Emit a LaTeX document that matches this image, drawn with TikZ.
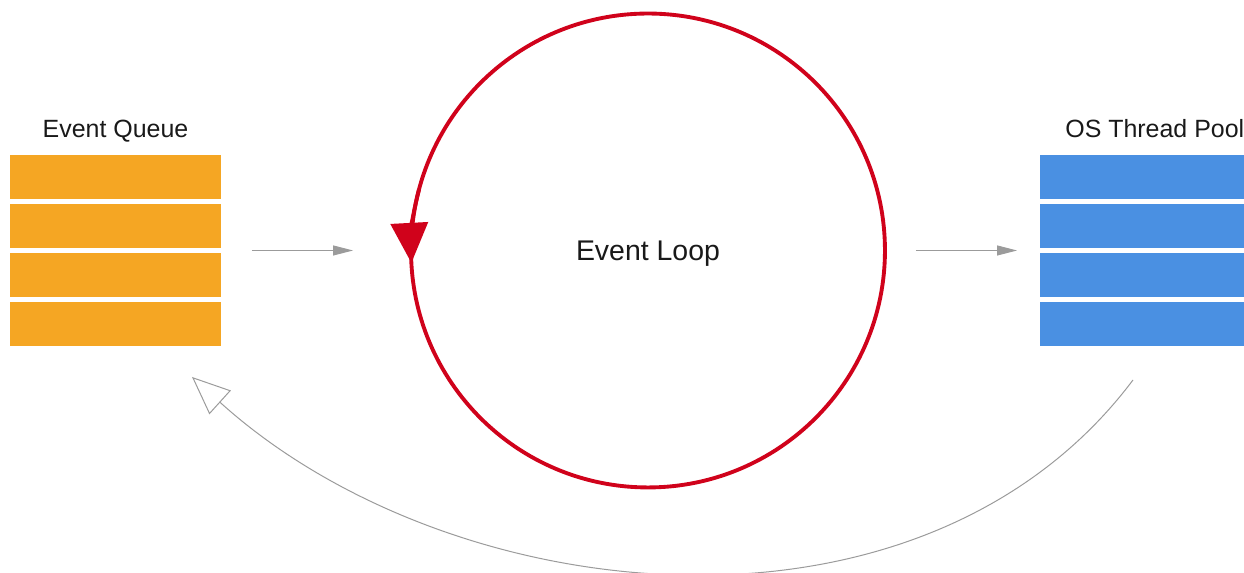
\documentclass[tikz,border=0pt]{standalone}
\usepackage{fontspec}
\setmainfont{Liberation Sans}
\usetikzlibrary{arrows.meta}

\definecolor{queueorange}{HTML}{F5A623}
\definecolor{poolblue}{HTML}{4A90E2}
\definecolor{loopred}{HTML}{D0021B}
\definecolor{flowgray}{HTML}{9B9B9B}

\begin{document}
\begin{tikzpicture}[x=0.02cm, y=0.02cm,
    stack/.style={rectangle, minimum width=4.22cm, minimum height=3.82cm, inner sep=0pt, outer sep=0pt},
    caption/.style={font=\fontsize{14.2}{17}\selectfont, text=black!90, inner sep=0pt},
    loopring/.style={circle, minimum size=9.48cm, inner sep=0pt, outer sep=0pt, text depth=0pt, font=\fontsize{16.2}{19}\selectfont, text=black!90},
    loopline/.style={loopred, line width=2.2pt},
    looptip/.style={loopred, line width=2.2pt, -{Triangle[length=0.8cm, width=0.74cm]}},
    flow/.style={flowgray, line width=0.57pt, -{Triangle[length=0.4cm, width=0.2cm]}},
    backflow/.style={flowgray, line width=0.57pt, -{Triangle[open, length=0.76cm, width=0.64cm]}}]
    \useasboundingbox (0,0) rectangle (1244,573);

    % Pilas
    \node[stack] (queue) at (115.5,322.5) {};
    \node[stack] (pool) at (1145.5,322.5) {};
    \foreach \i in {0,...,3} {
        \fill[queueorange] ([yshift={-\i*0.98cm}]queue.north west) rectangle ++(211,-44);
        \fill[poolblue] ([yshift={-\i*0.98cm}]pool.north west) rectangle ++(211,-44);
    }

    % Titulos
    \node[caption, anchor=base] (queuetitle) at (115.5,435) {Event Queue};
    \node[caption, anchor=base west] (pooltitle) at (1065,435) {OS Thread Pool};

    % Bucle
    \node[loopring] (loop) at (648,322.5) {Event Loop};
    \draw[loopline] (loop.center) circle (4.74cm);
    \draw[looptip] (loop.165) arc[start angle=165, end angle=183, radius=4.74cm];

    % Flechas
    \draw[flow, shorten <=0.62cm, shorten >=1.16cm] (queue.east) -- (loop.west);
    \draw[flow, shorten <=0.62cm, shorten >=0.46cm] (loop.east) -- (pool.west);
    \draw[backflow] ([shift={(-12.5,-34)}]pool.south) .. controls +(-211,-281) and +(260,-235) .. ([shift={(76.5,-31)}]queue.south);
\end{tikzpicture}
\end{document}
